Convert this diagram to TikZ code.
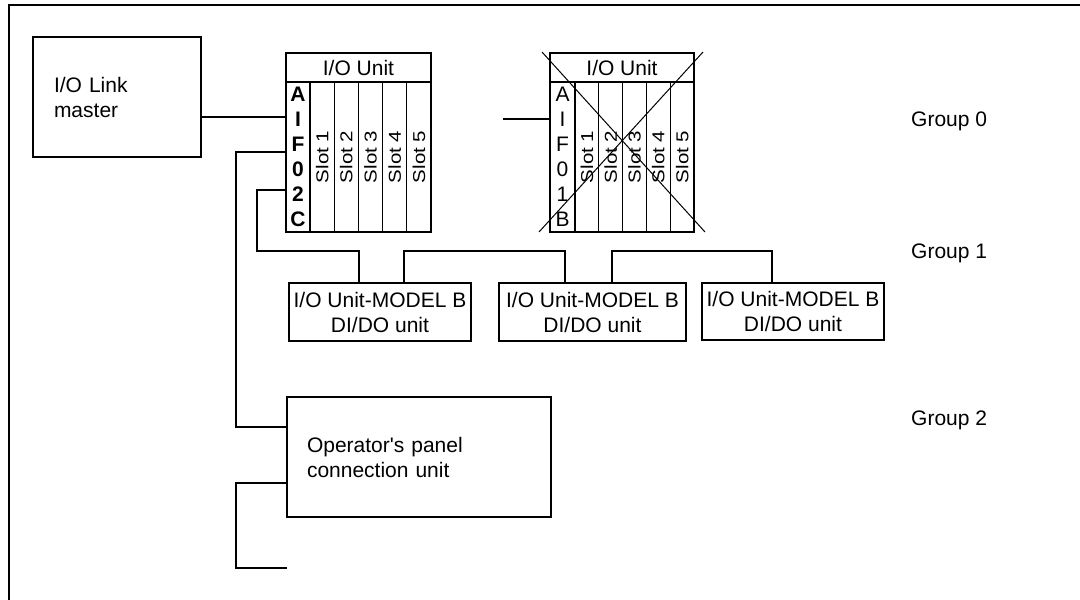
\documentclass[tikz,border=0pt]{standalone}
\usepackage{fontspec}
\usepackage{graphicx}
\setmainfont{Liberation Sans}
\usetikzlibrary{calc}
\begin{document}
\begin{tikzpicture}[x=1pt,y=-1pt,
  box/.style={draw,line width=1.3pt,inner sep=0pt,outer sep=0pt},
  wire/.style={line width=1.3pt},
  txt/.style={font=\fontsize{21}{25}\selectfont},
  slotlbl/.style={rotate=90,inner sep=0pt,font=\fontsize{20.5}{25}\selectfont},
  aifcol/.style={box,minimum height=150pt,align=center,font=\fontsize{21}{25}\selectfont},
  slotbox/.style={box,minimum height=150pt},
  hdrbox/.style={box,txt,minimum height=29pt},
  crossline/.style={line width=1pt},
]
\useasboundingbox (0,0) rectangle (1080,600);
% outer frame
\draw[line width=2pt] (9,600) -- (9,5) -- (1080,5);

% I/O Link master
\node[box,txt,minimum width=168pt,minimum height=120pt,text width=126pt,align=left] (master) at (117,97) {I/O Link\\master};

% I/O Unit 1
\node[hdrbox,minimum width=145pt] (hdr1) at (358.5,67.5) {I/O Unit};
\node[aifcol,minimum width=24pt,font=\fontsize{21}{25}\selectfont\bfseries] (aif1) at (298,157) {A\\I\\F\\0\\2\\C};
\foreach \i in {1,...,5}{
  \node[slotbox,minimum width=24.2pt] (sa\i) at ({310+24.2*(\i-0.5)},157) {};
  \node[slotlbl] (la\i) at (sa\i) {\scalebox{1}[0.84]{Slot \i}};
}

% I/O Unit 2 (crossed out)
\node[hdrbox,minimum width=144pt] (hdr2) at (622,67.5) {I/O Unit};
\node[aifcol,minimum width=25pt] (aif2) at (562.5,157) {A\\I\\F\\0\\1\\B};
\foreach \i in {1,...,5}{
  \node[slotbox,minimum width=23.8pt] (sb\i) at ({575+23.8*(\i-0.5)},157) {};
  \node[slotlbl] (lb\i) at (sb\i) {\scalebox{1}[0.84]{Slot \i}};
}
\draw[crossline] ([shift={(-8,-1)}]hdr2.north west) -- ([shift={(11,0)}]sb5.south east);
\draw[crossline] ([shift={(9,-1)}]hdr2.north east) -- ([shift={(-11,0)}]aif2.south west);

% I/O Unit-MODEL B boxes
\node[box,txt,minimum width=182pt,minimum height=58pt,align=center] (mb1) at (380,312) {I/O Unit-MODEL B\\DI/DO unit};
\node[box,txt,minimum width=187pt,minimum height=58pt,align=center] (mb2) at (592.5,312) {I/O Unit-MODEL B\\DI/DO unit};
\node[box,txt,minimum width=182pt,minimum height=57pt,align=center] (mb3) at (793,311.5) {I/O Unit-MODEL B\\DI/DO unit};

% Operator's panel connection unit
\node[box,txt,minimum width=264pt,minimum height=120pt,text width=224pt,align=left] (opbox) at (419,457) {Operator\textquotesingle s panel\\connection unit};

% Group labels
\node[txt,anchor=base west,inner sep=0pt] (g0) at (911,126) {Group 0};
\node[txt,anchor=base west,inner sep=0pt] (g1) at (911,258) {Group 1};
\node[txt,anchor=base west,inner sep=0pt] (g2) at (911,425) {Group 2};

% connection points on the AIF02C column
\coordinate (p1) at ([yshift=40pt]aif1.west);
\coordinate (p2) at ([yshift=5pt]aif1.west);
\coordinate (p3) at ([yshift=-33pt]aif1.west);

% wires
\draw[wire] (master.east |- p1) -- (p1);
\draw[wire] (p2) -- ++(-50,0) |- ([yshift=30pt]opbox.west);
\draw[wire] (p3) -- ++(-29,0) -- ++(0,61) -| ([xshift=-21pt]mb1.north);
\draw[wire] ([xshift=24pt]mb1.north) -- ++(0,-32) -| ([xshift=-27.5pt]mb2.north);
\draw[wire] ([xshift=19.5pt]mb2.north) -- ++(0,-32) -| ([xshift=-21pt]mb3.north);
\draw[wire] ([yshift=38pt]aif2.west) -- ++(-47,0);
\draw[wire] ([yshift=-26pt]opbox.west) -- ++(-51,0) -- ++(0,85) -- ++(51,0);
\end{tikzpicture}
\end{document}
